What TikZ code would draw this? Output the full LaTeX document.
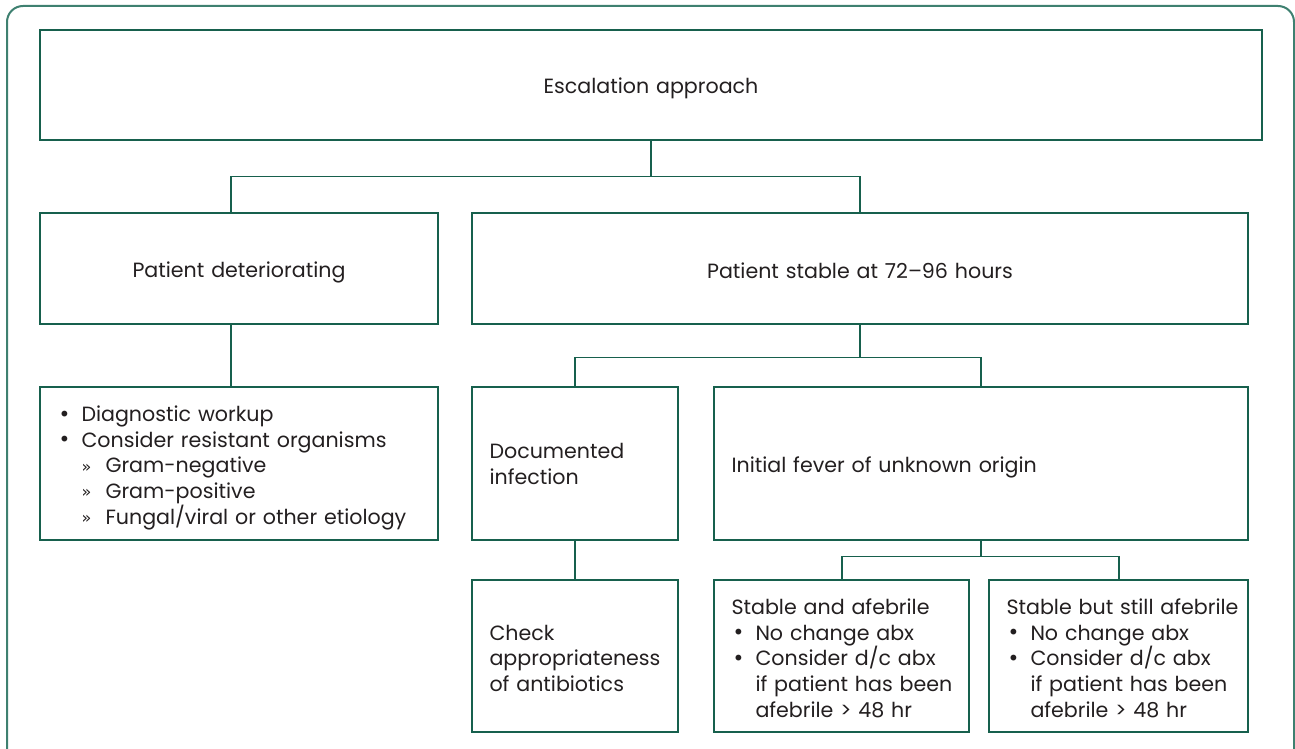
\documentclass[tikz,border=0pt]{standalone}
\usepackage{fontspec}
\setmainfont{Poppins}
\newfontfamily\djv{DejaVu Sans}
\definecolor{ln}{HTML}{17604D}
\definecolor{outerln}{HTML}{3E8070}
\definecolor{txt}{HTML}{231F20}
\newcommand{\bl}{\makebox[24pt][l]{\hspace*{1pt}\raisebox{0.3pt}{\djv\fontsize{20}{20}\selectfont •}}}
\newcommand{\sbl}{\hspace*{24pt}\makebox[24pt][l]{\raisebox{0.5pt}{\djv\fontsize{16}{16}\selectfont »}}}
\newcommand{\ind}{\hspace*{24pt}}
\newcommand{\myrh}{24pt}
\begin{document}
\begin{tikzpicture}[x=1pt,y=-1pt,
  every node/.style={font=\fontsize{20.6}{25.7}\selectfont, text=txt},
  rh/.code={\renewcommand{\myrh}{#1}},
  box/.style={draw=ln, line width=1.3pt, rectangle, inner xsep=17.5pt, inner ysep=0pt,
    execute at begin node={\rule{0pt}{\myrh}}},
  conn/.style={draw=ln, line width=1.3pt}]
\useasboundingbox (0,0) rectangle (1295,749);
\draw[outerln, line width=2pt, rounded corners=16pt] (7,6) rectangle (1294,765);
% boxes
\node[box, rh=22pt, minimum width=1222pt, minimum height=110pt, text width=1187pt, align=center] (top) at (651,85) {Escalation approach};
\node[box, minimum width=398pt, minimum height=111pt, text width=363pt, align=center] (det) at (239,268.5) {Patient deteriorating};
\node[box, rh=20pt, minimum width=776pt, minimum height=111pt, text width=741pt, align=center] (stab) at (860,268.5) {Patient stable at 72–96 hours};
\node[box, minimum width=398pt, minimum height=153pt, text width=363pt, align=left] (bul) at (239,463.5) {\mbox{\bl Diagnostic workup}\\ \mbox{\bl Consider resistant organisms}\\ \mbox{\sbl Gram-negative}\\ \mbox{\sbl Gram-positive}\\ \mbox{\sbl Fungal/viral or other etiology}};
\node[box, rh=16pt, minimum width=206pt, minimum height=153pt, text width=171pt, align=left] (doc) at (575,463.5) {Documented\\ infection};
\node[box, minimum width=534pt, minimum height=153pt, text width=499pt, align=left] (fev) at (981,463.5) {Initial fever of unknown origin};
\node[box, rh=20pt, minimum width=206pt, minimum height=152pt, text width=171pt, align=left] (chk) at (575,656) {Check\\ \mbox{appropriateness}\\ of antibiotics};
\node[box, rh=20pt, minimum width=255pt, minimum height=152pt, text width=220pt, align=left] (saf) at (841.5,656) {\mbox{Stable and afebrile}\\ \mbox{\bl No change abx}\\ \mbox{\bl Consider d/c abx}\\ \mbox{\ind if patient has been}\\ \mbox{\ind afebrile > 48 hr}};
\node[box, rh=20pt, minimum width=259pt, minimum height=152pt, text width=224pt, align=left] (sbs) at (1118.5,656) {\mbox{Stable but still afebrile}\\ \mbox{\bl No change abx}\\ \mbox{\bl Consider d/c abx}\\ \mbox{\ind if patient has been}\\ \mbox{\ind afebrile > 48 hr}};
% connectors
\draw[conn] (top.south) -- ++(0,35.5) -| ([xshift=-8pt]det.north);
\draw[conn] (top.south) -- ++(0,35.5) -| (stab.north);
\draw[conn] ([xshift=-8pt]det.south) -- ([xshift=-8pt]bul.north);
\draw[conn] (stab.south) -- ++(0,33) -| (doc.north);
\draw[conn] (stab.south) -- ++(0,33) -| (fev.north);
\draw[conn] (doc.south) -- (chk.north);
\draw[conn] (fev.south) -- ++(0,16) -| ([xshift=0.5pt]saf.north);
\draw[conn] (fev.south) -- ++(0,16) -| ([xshift=0.5pt]sbs.north);
\end{tikzpicture}
\end{document}
